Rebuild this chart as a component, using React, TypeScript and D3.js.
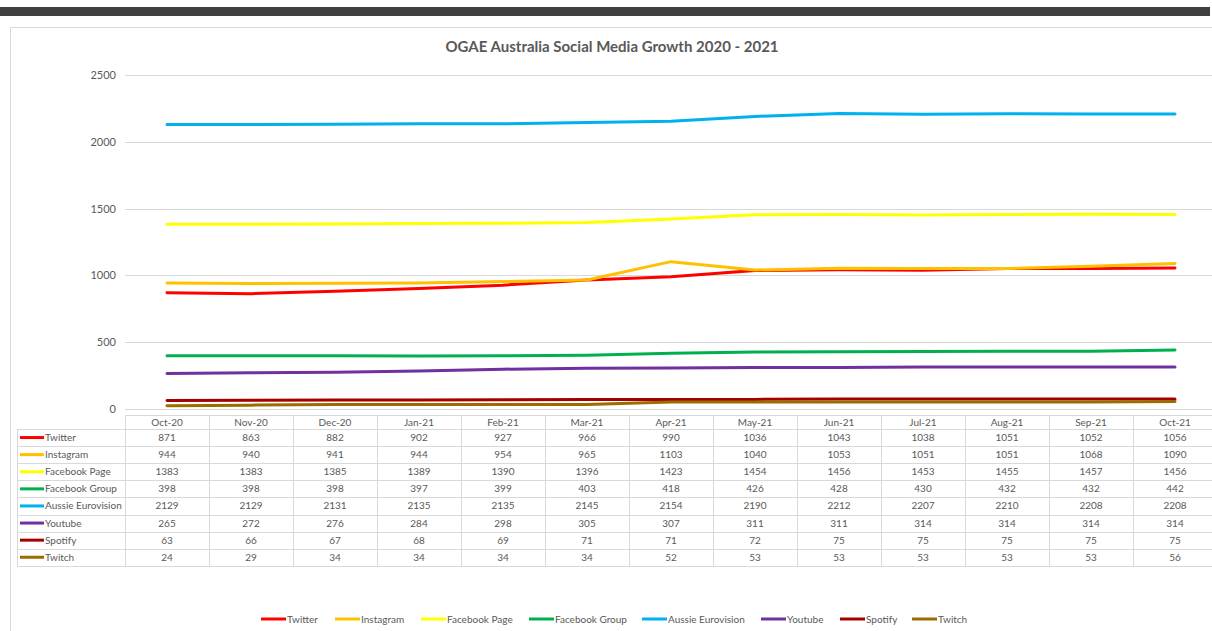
import React from "react";
import { scaleBand, scaleLinear, line } from "d3";

const months = ["Oct-20", "Nov-20", "Dec-20", "Jan-21", "Feb-21", "Mar-21", "Apr-21", "May-21", "Jun-21", "Jul-21", "Aug-21", "Sep-21", "Oct-21"];

const twitter = [871, 863, 882, 902, 927, 966, 990, 1036, 1043, 1038, 1051, 1052, 1056];
const instagram = [944, 940, 941, 944, 954, 965, 1103, 1040, 1053, 1051, 1051, 1068, 1090];
const facebookPage = [1383, 1383, 1385, 1389, 1390, 1396, 1423, 1454, 1456, 1453, 1455, 1457, 1456];
const facebookGroup = [398, 398, 398, 397, 399, 403, 418, 426, 428, 430, 432, 432, 442];
const aussieEurovision = [2129, 2129, 2131, 2135, 2135, 2145, 2154, 2190, 2212, 2207, 2210, 2208, 2208];
const youtube = [265, 272, 276, 284, 298, 305, 307, 311, 311, 314, 314, 314, 314];
const spotify = [63, 66, 67, 68, 69, 71, 71, 72, 75, 75, 75, 75, 75];
const twitch = [24, 29, 34, 34, 34, 34, 52, 53, 53, 53, 53, 53, 56];

const yTicks = [0, 500, 1000, 1500, 2000, 2500];

const series = [
  { name: "Twitter", values: twitter, color: "#FF0000" },
  { name: "Instagram", values: instagram, color: "#FFC000" },
  { name: "Facebook Page", values: facebookPage, color: "#FFFF00" },
  { name: "Facebook Group", values: facebookGroup, color: "#00B050" },
  { name: "Aussie Eurovision", values: aussieEurovision, color: "#00B0F0" },
  { name: "Youtube", values: youtube, color: "#7030A0" },
  { name: "Spotify", values: spotify, color: "#A50000" },
  { name: "Twitch", values: twitch, color: "#9C6C00" },
];

// legend swatch start positions
const legendX = [261, 335, 421, 529, 642, 761, 840, 912];

const font = "Lato, 'Open Sans', sans-serif";
const textColor = "#595959";
const gridColor = "#D9D9D9";

const App = () => {
  const W = 1212;
  const H = 631;

  const x = scaleBand<string>().domain(months).range([125, 1217]).padding(0);
  const y = scaleLinear().domain([0, 2500]).range([409, 75]);

  const lineGen = line<number>()
    .x((_, i) => (x(months[i]) as number) + x.bandwidth() / 2)
    .y((d) => y(d));

  const tableTop = 415;
  const headerH = 14;
  const rowH = 17.1;
  const rowsTop = tableTop + headerH;
  const tableLeft = 17;
  const tableRight = 1217;

  return (
    <svg width={W} height={H} style={{ position: "absolute", left: 0, top: 0, background: "#fff" }} fontFamily={font}>
      <rect x={0} y={7} width={1210} height={9} fill="#404040" />
      <line x1={10} x2={W} y1={27.5} y2={27.5} stroke={gridColor} />
      <line x1={10.5} x2={10.5} y1={27} y2={H} stroke={gridColor} />

      <text x={612} y={52} textAnchor="middle" fontSize={15} fontWeight={700} fill={textColor}>
        OGAE Australia Social Media Growth 2020 - 2021
      </text>

      {/* grid + y axis */}
      {yTicks.map((t) => (
        <g key={t}>
          <line x1={125} x2={W} y1={Math.round(y(t)) + 0.5} y2={Math.round(y(t)) + 0.5} stroke={gridColor} />
          <text x={116} y={y(t) + 4} textAnchor="end" fontSize={11} fill={textColor}>
            {t}
          </text>
        </g>
      ))}

      {/* lines */}
      {series.map((s) => (
        <path key={s.name} d={lineGen(s.values) || ""} fill="none" stroke={s.color} strokeWidth={3} strokeLinejoin="round" strokeLinecap="round" />
      ))}

      {/* data table */}
      <g>
        <line x1={125} x2={tableRight} y1={tableTop + 0.5} y2={tableTop + 0.5} stroke={gridColor} />
        {series.map((_, i) => (
          <line key={i} x1={tableLeft} x2={tableRight} y1={Math.round(rowsTop + i * rowH) + 0.5} y2={Math.round(rowsTop + i * rowH) + 0.5} stroke={gridColor} />
        ))}
        <line x1={tableLeft} x2={tableRight} y1={Math.round(rowsTop + series.length * rowH) + 0.5} y2={Math.round(rowsTop + series.length * rowH) + 0.5} stroke={gridColor} />
        <line x1={tableLeft + 0.5} x2={tableLeft + 0.5} y1={rowsTop} y2={rowsTop + series.length * rowH} stroke={gridColor} />
        {months.map((m) => (
          <line key={m} x1={Math.round(x(m) as number) + 0.5} x2={Math.round(x(m) as number) + 0.5} y1={tableTop} y2={rowsTop + series.length * rowH} stroke={gridColor} />
        ))}
        {months.map((m) => (
          <text key={m} x={(x(m) as number) + x.bandwidth() / 2} y={tableTop + 11} textAnchor="middle" fontSize={10} fill={textColor}>
            {m}
          </text>
        ))}
        {series.map((s, i) => (
          <g key={s.name}>
            <line x1={20} x2={44} y1={rowsTop + i * rowH + rowH / 2} y2={rowsTop + i * rowH + rowH / 2} stroke={s.color} strokeWidth={3} />
            <text x={45} y={rowsTop + i * rowH + rowH / 2 + 3.5} fontSize={10} fill={textColor}>
              {s.name}
            </text>
            {s.values.map((v, j) => (
              <text key={j} x={(x(months[j]) as number) + x.bandwidth() / 2} y={rowsTop + i * rowH + rowH / 2 + 3.5} textAnchor="middle" fontSize={10} fill={textColor}>
                {v}
              </text>
            ))}
          </g>
        ))}
      </g>

      {/* legend */}
      {series.map((s, i) => (
        <g key={s.name}>
          <line x1={legendX[i]} x2={legendX[i] + 25} y1={619} y2={619} stroke={s.color} strokeWidth={3} />
          <text x={legendX[i] + 26} y={622.5} fontSize={10} fill={textColor}>
            {s.name}
          </text>
        </g>
      ))}
    </svg>
  );
};

export default App;
